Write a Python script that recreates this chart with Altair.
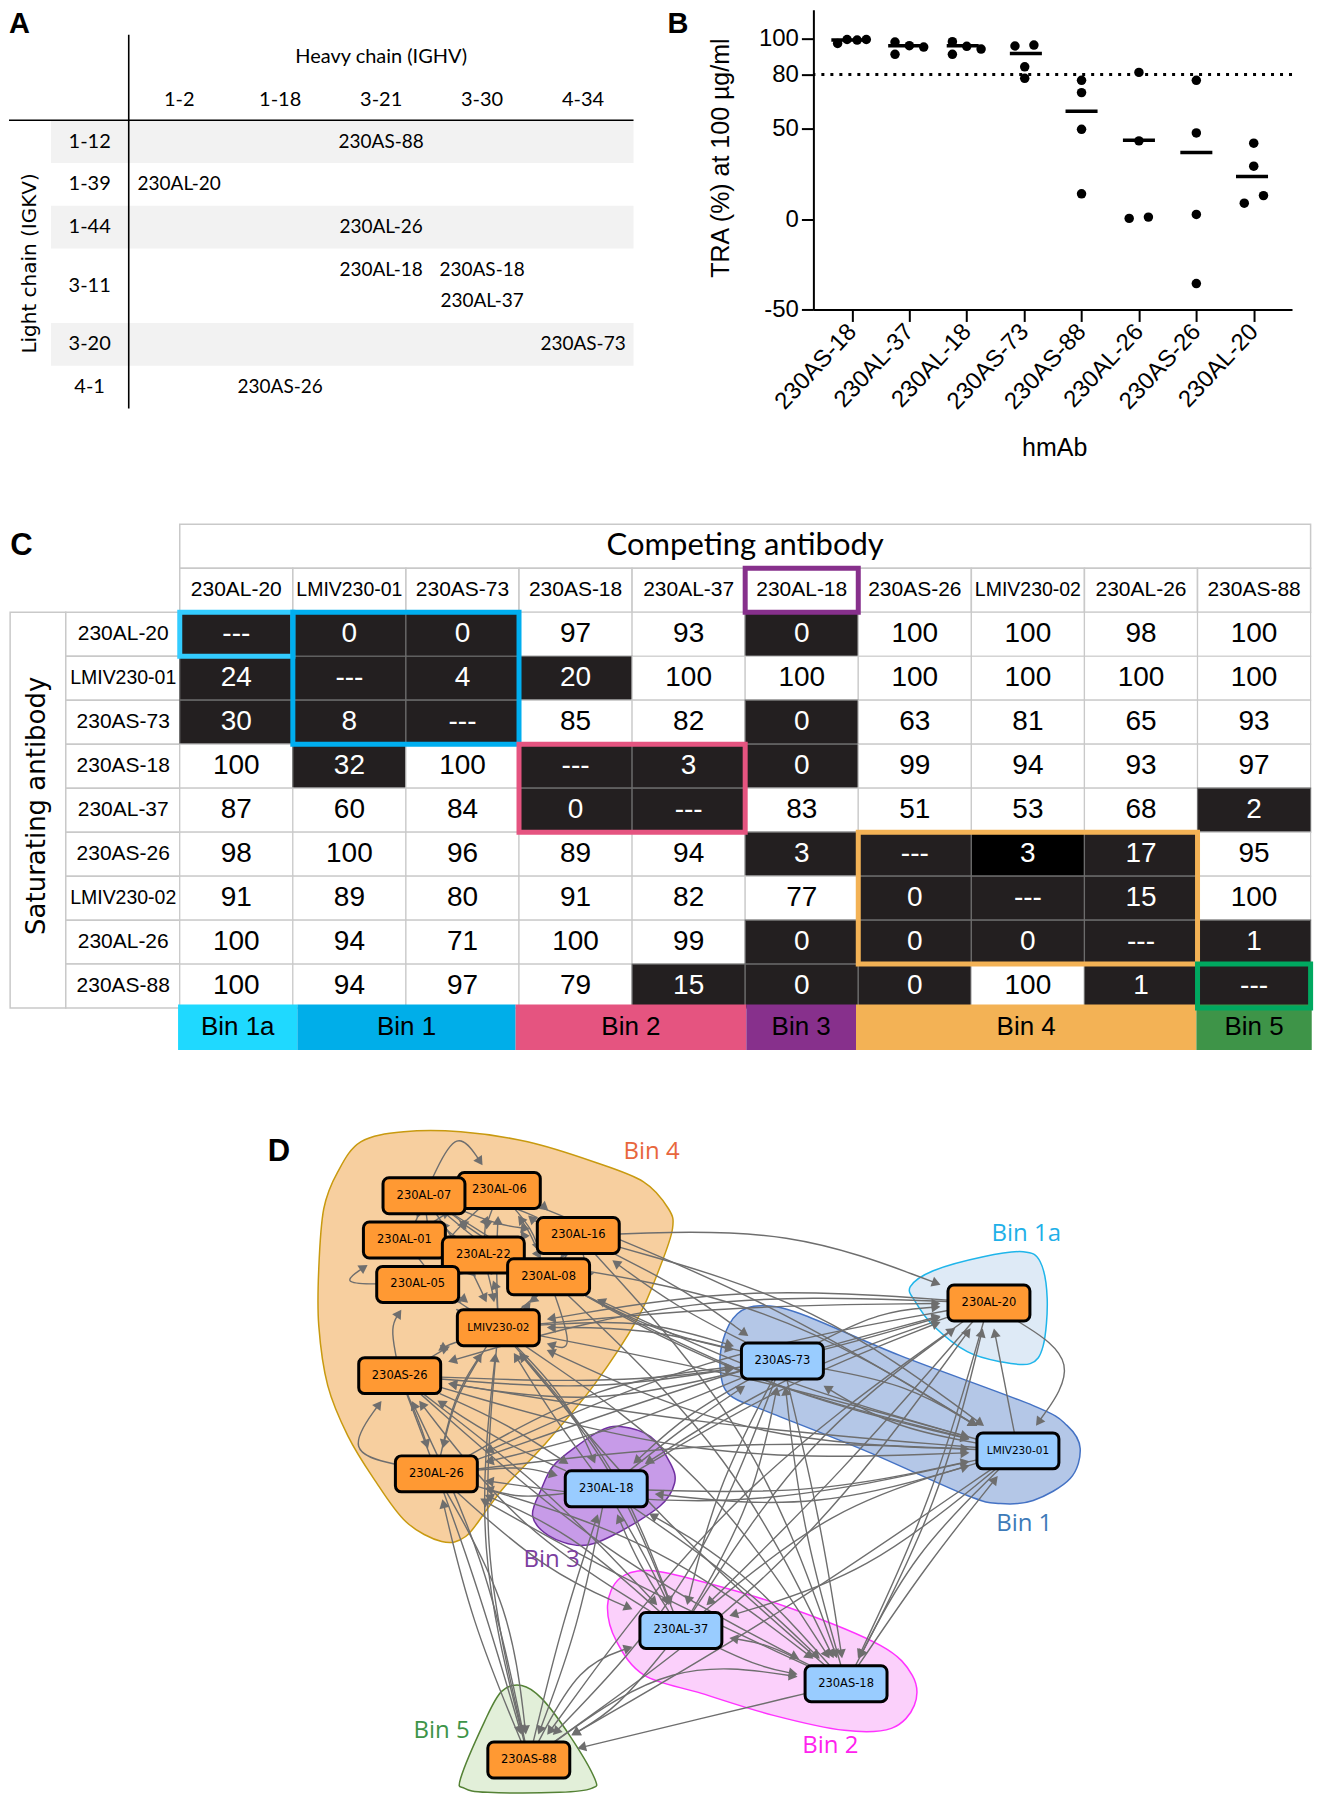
import math
import altair as alt
import pandas as pd

# ---------- Panel A ----------
heavy = ["1-2", "1-18", "3-21", "3-30", "4-34"]
light = ["1-12", "1-39", "1-44", "3-11", "3-20", "4-1"]
row_edges = [0, 1, 2, 3, 4.74, 5.74, 6.74]
clones = [("230AS-88", 2, 0, 0), ("230AL-20", 0, 1, 0), ("230AL-26", 2, 2, 0),
          ("230AL-18", 2, 3, -.36), ("230AS-18", 3, 3, -.36), ("230AL-37", 3, 3, .36),
          ("230AS-73", 4, 4, 0), ("230AS-26", 1, 5, 0)]

# ---------- Panel B ----------
hmabs = ["230AS-18", "230AL-37", "230AL-18", "230AS-73", "230AS-88", "230AL-26", "230AS-26", "230AL-20"]
tra_values = [[97.2, 99.4, 99.1, 99.4], [98, 91.2, 96, 95.2], [98.2, 91.2, 95.6, 94.1], [95.8, 96.3, 84.3, 77.9],
              [76.8, 70, 49.7, 14], [81.2, 43.3, 0.4, 1.1], [76.8, 47.7, 2.6, -35.7], [42, 29.3, 8.8, 13]]
tra_offsets = [[-.25, -.085, .09, .25], [-.25, -.25, 0, .25], [-.25, -.25, 0, .25], [-.16, .17, .01, .01],
               [0, 0, 0, 0], [0, 0, -.17, .165], [0, 0, 0, 0], [0, 0, -.165, .17]]
tra_means = [99.1, 96, 96, 91.7, 59.7, 43.6, 36.8, 23.6]
mean_offsets = [-.08, -.09, -.07, .03, 0, 0, 0, -.03]

# ---------- Panel C ----------
competing = ["230AL-20", "LMIV230-01", "230AS-73", "230AS-18", "230AL-37", "230AL-18", "230AS-26", "LMIV230-02", "230AL-26", "230AS-88"]
saturating = ["230AL-20", "LMIV230-01", "230AS-73", "230AS-18", "230AL-37", "230AS-26", "LMIV230-02", "230AL-26", "230AS-88"]
matrix = [["---", 0, 0, 97, 93, 0, 100, 100, 98, 100],
          [24, "---", 4, 20, 100, 100, 100, 100, 100, 100],
          [30, 8, "---", 85, 82, 0, 63, 81, 65, 93],
          [100, 32, 100, "---", 3, 0, 99, 94, 93, 97],
          [87, 60, 84, 0, "---", 83, 51, 53, 68, 2],
          [98, 100, 96, 89, 94, 3, "---", 3, 17, 95],
          [91, 89, 80, 91, 82, 77, 0, "---", 15, 100],
          [100, 94, 71, 100, 99, 0, 0, 0, "---", 1],
          [100, 94, 97, 79, 15, 0, 0, 100, 1, "---"]]
bins = ["Bin 1a", "Bin 1", "Bin 2", "Bin 3", "Bin 4", "Bin 5"]
bin_colors = ["#1fd9ff", "#00aee9", "#e55480", "#87308c", "#f3b255", "#3e9448"]
bin_edges = [-.015, 1.04, 2.97, 5.01, 5.98, 8.99, 10.01]
frames = [("#33ccff", 0, 1, 0, 1), ("#00aeef", 1, 3, 0, 3), ("#e55480", 3, 5, 3, 5),
          ("#87308c", 5, 6, -1, 0), ("#f3b255", 6, 9, 5, 8), ("#00a860", 9, 10, 8, 9)]

# ---------- Panel D ----------
nodes = [("230AL-01", 403.7, 1241.3, "o"), ("230AL-06", 498.7, 1191.7, "o"), ("230AL-07", 423.3, 1197, "o"),
         ("230AL-22", 482.7, 1256.3, "o"), ("230AL-05", 417, 1285.7, "o"), ("230AL-16", 577.7, 1236.7, "o"),
         ("230AL-08", 548, 1278, "o"), ("LMIV230-02", 497.7, 1329, "o"), ("230AS-26", 399, 1377, "o"),
         ("230AL-26", 435.7, 1475.3, "o"), ("230AL-18", 605.7, 1490.3, "b"), ("230AS-73", 782, 1362.3, "b"),
         ("230AL-20", 988.7, 1304.3, "o"), ("LMIV230-01", 1017.7, 1452.3, "b"), ("230AL-37", 680.4, 1632, "b"),
         ("230AS-18", 845.7, 1685.3, "b"), ("230AS-88", 528.2, 1761.7, "o")]
hulls = {
    "Bin 4": ("#f7cf9f", "#c89a10", [(360,1143),(403,1133),(460,1133),(527,1143),(593,1163),(643,1183),(668,1210),(672,1230),(660,1267),(637,1320),(593,1387),(543,1447),(505,1487),(487,1510),(465,1538),(441,1543),(405,1523),(373,1480),(347,1437),(327,1387),(318,1327),(318,1270),(323,1210),(337,1173)]),
    "Bin 1a": ("#deeaf6", "#1fb5ea", [(910,1288),(933,1272),(983,1258),(1023,1253),(1040,1263),(1047,1300),(1043,1347),(1030,1365),(1000,1363),(967,1353),(933,1327),(915,1303)]),
    "Bin 1": ("#b4c7e7", "#4472c4", [(723,1340),(737,1315),(760,1307),(800,1315),(900,1357),(1033,1407),(1067,1427),(1080,1450),(1070,1480),(1033,1502),(1000,1505),(967,1497),(867,1453),(767,1413),(730,1397),(720,1373)]),
    "Bin 3": ("#c79be8", "#7030a0", [(620,1428),(650,1438),(670,1465),(674,1485),(659,1508),(612,1537),(580,1547),(548,1537),(532,1517),(541,1490),(553,1467),(577,1447),(600,1432)]),
    "Bin 2": ("#fbd0fb", "#ff33ff", [(607,1607),(619,1580),(648,1572),(701,1583),(791,1610),(880,1647),(912,1677),(914,1707),(891,1730),(844,1732),(773,1717),(701,1695),(644,1677),(616,1643)]),
    "Bin 5": ("#e2efd9", "#548235", [(521,1687),(541,1700),(569,1737),(594,1780),(591,1790),(559,1794),(487,1794),(464,1790),(460,1780),(484,1723),(501,1693)]),
}
hull_labels = [("Bin 4", 651, 1153, "#e8663c"), ("Bin 1a", 1026, 1235, "#1fb0e8"), ("Bin 1", 1024, 1525, "#3d7ab8"),
               ("Bin 3", 551, 1562, "#7c3fa0"), ("Bin 2", 830, 1748, "#ff22ee"), ("Bin 5", 441, 1733, "#3d9448")]
edges_into = {
    "LMIV230-01": ["230AL-06", "230AL-16", "230AL-08", "230AL-22", "LMIV230-02", "230AS-26", "230AL-26", "230AS-73", "230AL-18", "230AL-37", "230AS-18", "230AL-07"],
    "230AS-73": ["230AL-16", "LMIV230-02", "230AS-26", "230AL-26", "230AL-18", "230AL-37", "230AS-18", "LMIV230-01", "230AL-08"],
    "230AL-20": ["230AL-16", "LMIV230-02", "230AS-26", "230AL-18", "230AL-37", "230AS-18", "230AS-73", "230AL-26", "230AS-88"],
    "230AS-18": ["230AL-18", "230AL-26", "230AS-26", "LMIV230-02", "230AS-73", "LMIV230-01", "230AL-20", "230AL-08", "230AL-37", "230AL-16"],
    "230AL-37": ["230AL-18", "230AL-26", "230AS-26", "LMIV230-02", "230AS-73", "LMIV230-01", "230AL-20", "230AS-18"],
    "230AL-18": ["230AS-26", "LMIV230-02", "230AS-73", "LMIV230-01", "230AS-88", "230AS-18", "230AL-37", "230AL-26", "230AL-20"],
    "230AS-88": ["230AL-26", "230AS-26", "LMIV230-02", "230AL-18", "230AL-37", "230AS-18", "230AS-73", "LMIV230-01", "230AL-20"],
    "LMIV230-02": ["230AS-26", "230AL-26", "230AS-73", "LMIV230-01", "230AL-18", "230AL-37", "230AS-18", "230AS-88", "230AL-20", "230AL-05", "230AL-22", "230AL-01", "230AL-07", "230AL-16"],
    "230AS-26": ["LMIV230-02", "230AS-73", "LMIV230-01", "230AL-20", "230AL-18", "230AL-37", "230AS-88", "230AL-26"],
    "230AL-26": ["230AS-26", "LMIV230-02", "230AS-73", "LMIV230-01", "230AL-20", "230AL-18", "230AS-18", "230AL-37", "230AS-88"],
    "230AL-16": ["230AL-06", "230AL-07", "230AL-22", "230AL-08", "LMIV230-02", "230AS-73"],
    "230AL-08": ["230AL-06", "230AL-07", "230AL-01", "230AL-22", "LMIV230-02", "LMIV230-01", "230AL-05"],
    "230AL-22": ["230AL-06", "230AL-07", "230AL-01", "LMIV230-02", "230AL-05", "230AL-16"],
    "230AL-07": ["230AL-01", "230AL-22", "230AL-08", "230AL-16"],
    "230AL-06": ["230AL-01", "230AL-22", "230AL-08", "230AL-16", "LMIV230-02"],
    "230AL-01": ["230AL-22", "230AL-08", "LMIV230-02"],
    "230AL-05": ["230AL-06", "230AL-07", "230AL-22", "230AL-08", "LMIV230-02"],
}
bowed_edges = [("230AL-07", "230AL-06", .88), ("230AL-05", "230AL-01", 1.6), ("230AL-26", "230AS-26", .75),
               ("230AL-20", "LMIV230-01", .53), ("LMIV230-01", "230AL-20", 0), ("230AL-08", "LMIV230-02", 1.0),
               ("230AL-16", "230AL-08", .6), ("230AS-88", "230AL-37", .2), ("230AS-88", "230AS-18", .2),
               ("230AS-18", "230AS-88", 0), ("230AS-26", "230AL-05", .2)]
bows = [.04, .09, -.06, .1, .02, -.08]

FONT_CAL = "Lato"
FONT_AR = "Liberation Sans"
FONT_D = "Open Sans"
FONT_W = "DejaVu Sans"
EDGE = "#6e6e6e"


def scales(xd, yd):
    def X(f="x"):
        return alt.X(f + ":Q", scale=alt.Scale(domain=xd, nice=False, zero=False), axis=None)

    def Y(f="y"):
        return alt.Y(f + ":Q", scale=alt.Scale(domain=yd, nice=False, zero=False), axis=None)
    return X, Y


# ---------- build A ----------
X, Y = scales([-1.186, 5], [6.74, -2.586])


def txt(rows, X, Y, **kw):
    base = dict(baseline="middle", align="center")
    base.update(kw)
    return alt.Chart(pd.DataFrame(rows)).mark_text(**base).encode(x=X(), y=Y(), text="t:N")


row_mid = [(row_edges[i] + row_edges[i + 1]) / 2 for i in range(len(light))]
shade = pd.DataFrame([{"x": -.77, "x2": 5, "y": row_edges[i], "y2": row_edges[i + 1]} for i in (0, 2, 4)])
a_layers = [
    alt.Chart(shade).mark_rect(color="#f2f2f2").encode(x=X(), x2="x2:Q", y=Y(), y2="y2:Q"),
    alt.Chart(pd.DataFrame([{"x": 0, "y": -2.0, "y2": 6.74}])).mark_rule(color="black", strokeWidth=1.6).encode(x=X(), y=Y(), y2="y2:Q"),
    alt.Chart(pd.DataFrame([{"y": 0, "x": -1.186, "x2": 5}])).mark_rule(color="black", strokeWidth=1.6).encode(x=X(), x2="x2:Q", y=Y()),
    txt([{"x": i + .5, "y": -.477, "t": h} for i, h in enumerate(heavy)], X, Y, font=FONT_CAL, fontSize=20),
    txt([{"x": -.387, "y": row_mid[i], "t": l} for i, l in enumerate(light)], X, Y, font=FONT_CAL, fontSize=20),
    txt([{"x": c + .5, "y": row_mid[r] + d, "t": n} for n, c, r, d in clones], X, Y, font=FONT_CAL, fontSize=19),
    txt([{"x": 2.5, "y": -1.49, "t": "Heavy chain  (IGHV)"}], X, Y, font=FONT_CAL, fontSize=20),
    txt([{"x": -.978, "y": 3.35, "t": "Light chain (IGKV)"}], X, Y, font=FONT_W, fontSize=20, angle=270),
    txt([{"x": -1.186, "y": -2.05, "t": "A"}], X, Y, font=FONT_AR, fontSize=29, fontWeight="bold", align="left", baseline="alphabetic"),
]
panel_a = alt.layer(*a_layers).properties(width=625, height=399)

# ---------- build B ----------
pts = []
for i, (vals, offs) in enumerate(zip(tra_values, tra_offsets)):
    for v, o in zip(vals, offs):
        pts.append({"x": i + o, "y": v})
means = pd.DataFrame([{"x": i + o - .279, "x2": i + o + .279, "y": m}
                      for i, (m, o) in enumerate(zip(tra_means, mean_offsets))])
bx = alt.Scale(domain=[-.672, 7.667], nice=False, zero=False)
by = alt.Scale(domain=[-50, 115.9], nice=False, zero=False)
names_js = "[" + ",".join("'" + n + "'" for n in hmabs) + "]"
x_axis = alt.Axis(values=list(range(8)), labelExpr=names_js + "[datum.value]", title="hmAb", grid=False,
                  labelAngle=313, labelAlign="right", labelBaseline="middle", labelFontSize=24, labelFont=FONT_AR,
                  labelPadding=6, labelOverlap=False, labelBound=False, labelFlush=False, labelColor="black",
                  tickSize=12, tickWidth=2, tickColor="black", domainWidth=2, domainColor="black",
                  titleFont=FONT_AR, titleFontSize=25, titleFontWeight="normal", titleColor="black",
                  titleX=241, titleY=138, titleBaseline="middle", titleAlign="center")
y_axis = alt.Axis(values=[-50, 0, 50, 80, 100], labelExpr="'' + datum.value", title="TRA (%) at 100 µg/ml", grid=False,
                  labelFontSize=24, labelFont=FONT_AR, labelPadding=3, labelColor="black", labelOverlap=False,
                  labelBound=False, labelFlush=False,
                  tickSize=12, tickWidth=2, tickColor="black", domainWidth=2, domainColor="black",
                  titleFont=FONT_AR, titleFontSize=25, titleFontWeight="normal", titleColor="black",
                  titleX=-92.6, titleY=148, titleAngle=270, titleBaseline="middle", titleAlign="center")
BX = alt.X("x:Q", scale=bx, axis=x_axis)
BY = alt.Y("y:Q", scale=by, axis=y_axis)
b_layers = [
    alt.Chart(pd.DataFrame(pts)).mark_point(filled=True, color="black", size=90, opacity=1).encode(x=BX, y=BY),
    alt.Chart(means).mark_rule(color="black", strokeWidth=3.5).encode(x=BX, x2="x2:Q", y=BY),
    alt.Chart(pd.DataFrame([{"y": 80}])).mark_rule(color="black", strokeWidth=3, strokeDash=[3, 6]).encode(y=BY),
    alt.Chart(pd.DataFrame([{"t": "B"}])).mark_text(
        font=FONT_AR, fontSize=29, fontWeight="bold", align="left", baseline="alphabetic", color="black").encode(
        x=alt.value(-146), y=alt.value(23), text="t:N"),
]
panel_b = alt.layer(*b_layers).properties(width=479, height=300)

# ---------- build C ----------
X, Y = scales([-1.51, 10.03], [9.95, -2])
cells = []
for r, row in enumerate(matrix):
    for c, v in enumerate(row):
        dark = v == "---" or v <= 32
        fill = "#231f20" if dark else "#ffffff"
        if saturating[r] == "230AS-26" and competing[c] == "LMIV230-02":
            fill = "#000000"
        cells.append({"x": c, "x2": c + 1, "y": r, "y2": r + 1, "fill": fill,
                      "stroke": "#6c6c6c" if dark else "#c9c9c9",
                      "tc": "white" if dark else "black", "t": str(v), "mx": c + .5, "my": r + .5})
cells_df = pd.DataFrame(cells)


def fs(name):
    return 19.5 if name.startswith("LMIV") else 21


hdr = [{"x": i + .5, "y": -.5, "t": n, "fs": fs(n)} for i, n in enumerate(competing)] + \
      [{"x": -.5, "y": i + .5, "t": n, "fs": fs(n)} for i, n in enumerate(saturating)]
c_layers = [
    alt.Chart(pd.DataFrame([{"x": -1.5, "x2": -1.008, "y": 0, "y2": 9}, {"x": 0, "x2": 10, "y": -2, "y2": -1}])).mark_rect(
        fill="white", stroke="#c9c9c9", strokeWidth=1.5).encode(x=X(), x2="x2:Q", y=Y(), y2="y2:Q"),
    alt.Chart(pd.DataFrame([{"x": -1.008, "x2": 0, "y": i, "y2": i + 1} for i in range(9)])).mark_rect(
        fill="white", stroke="#c9c9c9", strokeWidth=1.5).encode(x=X(), x2="x2:Q", y=Y(), y2="y2:Q"),
    alt.Chart(pd.DataFrame([{"x": i, "x2": i + 1, "y": -1, "y2": 0} for i in range(10)])).mark_rect(
        fill="white", stroke="#c9c9c9", strokeWidth=1.5).encode(x=X(), x2="x2:Q", y=Y(), y2="y2:Q"),
    alt.Chart(cells_df).mark_rect(strokeWidth=1.2).encode(
        x=X(), x2="x2:Q", y=Y(), y2="y2:Q",
        fill=alt.Fill("fill:N", scale=None), stroke=alt.Stroke("stroke:N", scale=None)),
    alt.Chart(pd.DataFrame([{"x": bin_edges[i], "x2": bin_edges[i + 1], "y": 8.92, "y2": 9.95, "fill": bin_colors[i]} for i in range(6)])).mark_rect().encode(
        x=X(), x2="x2:Q", y=Y(), y2="y2:Q", fill=alt.Fill("fill:N", scale=None)),
    alt.Chart(pd.DataFrame([{"x": a, "x2": b, "y": t, "y2": u, "s": col} for col, a, b, t, u in frames])).mark_rect(
        fill="transparent", strokeWidth=5).encode(
        x=X(), x2="x2:Q", y=Y(), y2="y2:Q", stroke=alt.Stroke("s:N", scale=None)),
    alt.Chart(cells_df).mark_text(font=FONT_AR, fontSize=28, baseline="middle", align="center").encode(
        x=X("mx"), y=Y("my"), text="t:N", color=alt.Color("tc:N", scale=None)),
    alt.Chart(pd.DataFrame(hdr)).mark_text(font=FONT_AR, baseline="middle", align="center", color="black").encode(
        x=X(), y=Y(), text="t:N", size=alt.Size("fs:Q", scale=None)),
    txt([{"x": (bin_edges[i] + bin_edges[i + 1]) / 2, "y": 9.43, "t": b} for i, b in enumerate(bins)], X, Y, font=FONT_AR, fontSize=26),
    txt([{"x": 5, "y": -1.5, "t": "Competing antibody"}], X, Y, font=FONT_CAL, fontSize=31),
    txt([{"x": -1.258, "y": 4.4, "t": "Saturating antibody"}], X, Y, font=FONT_W, fontSize=26, angle=270),
    txt([{"x": -1.5, "y": -1.5, "t": "C"}], X, Y, font=FONT_AR, fontSize=31, fontWeight="bold", align="left"),
]
panel_c = alt.layer(*c_layers).properties(width=1306, height=526)

# ---------- build D ----------
D_TOP, D_BOTTOM = 1114, 1796
X, Y = scales([8, 1314], [D_BOTTOM, D_TOP])
pos = {n: (x, y) for n, x, y, _ in nodes}
HW, HH = 41, 18


def on_box(c, toward, pad):
    dx, dy = toward[0] - c[0], toward[1] - c[1]
    t = min((HW + pad) / max(abs(dx), 1e-6), (HH + pad) / max(abs(dy), 1e-6))
    return c[0] + dx * t, c[1] + dy * t


edge_list = []
k = 0
for t, srcs in edges_into.items():
    for s in srcs:
        edge_list.append((s, t, bows[k % len(bows)]))
        k += 1
special = {(s, t): b for s, t, b in bowed_edges}
edge_list = [e for e in edge_list if (e[0], e[1]) not in special] + bowed_edges

edge_rows, head_rows = [], []
for eid, (s, t, b) in enumerate(edge_list):
    p, q = pos[s], pos[t]
    mx, my = (p[0] + q[0]) / 2, (p[1] + q[1]) / 2
    dx, dy = q[0] - p[0], q[1] - p[1]
    ctrl = (mx + dy * b, my - dx * b)
    a = on_box(p, ctrl, 0)
    tip = on_box(q, ctrl, 6)
    ux, uy = tip[0] - ctrl[0], tip[1] - ctrl[1]
    ul = math.hypot(ux, uy)
    ux, uy = ux / ul, uy / ul
    end = (tip[0] - ux * 6, tip[1] - uy * 6)
    for o, pt in enumerate((a, ctrl, end)):
        edge_rows.append({"id": eid, "o": o, "x": pt[0], "y": pt[1]})
    head_rows.append({"x": end[0], "y": end[1], "ang": math.degrees(math.atan2(ux, -uy)) % 360})

d_layers = []
for name, (fill, stroke, outline) in hulls.items():
    df = pd.DataFrame([{"x": x, "y": y, "o": i} for i, (x, y) in enumerate(outline)])
    d_layers.append(alt.Chart(df).mark_line(interpolate="cardinal-closed", fill=fill, stroke=stroke, strokeWidth=1.5, clip=True).encode(
        x=X(), y=Y(), order=alt.Order("o:Q")))
d_layers.append(alt.Chart(pd.DataFrame(edge_rows)).mark_line(interpolate="basis", color=EDGE, strokeWidth=1.4).encode(
    x=X(), y=Y(), detail="id:N", order=alt.Order("o:Q")))
d_layers.append(alt.Chart(pd.DataFrame(head_rows)).mark_point(shape="triangle-up", filled=True, color=EDGE, opacity=1, size=105).encode(
    x=X(), y=Y(), angle=alt.Angle("ang:Q", scale=None)))
for n, x, y, kind in nodes:
    d_layers.append(alt.Chart(pd.DataFrame([{"x": x - HW, "x2": x + HW, "y": y - HH, "y2": y + HH}])).mark_rect(
        fill="#ff9933" if kind == "o" else "#99ccff", stroke="black", strokeWidth=3, cornerRadius=6).encode(
        x=X(), x2="x2:Q", y=Y(), y2="y2:Q"))
    d_layers.append(txt([{"x": x, "y": y, "t": n}], X, Y, font=FONT_W, fontSize=11.5 if "LMIV" not in n else 10.5, color="black"))
for t, x, y, col in hull_labels:
    d_layers.append(txt([{"x": x, "y": y, "t": t}], X, Y, font=FONT_D, fontSize=24, color=col))
d_layers.append(txt([{"x": 267, "y": 1153, "t": "D"}], X, Y, font=FONT_AR, fontSize=31, fontWeight="bold", align="left"))
panel_d = alt.layer(*d_layers).properties(width=1306, height=D_BOTTOM - D_TOP)

top = alt.hconcat(panel_a, panel_b, spacing=180, bounds="flush")
chart = alt.vconcat(top, panel_c, panel_d, spacing=63, bounds="full").properties(
    padding=0, background="white").configure_view(stroke=None)
chart.save("out.html", embed_options={"renderer": "svg", "actions": False})
